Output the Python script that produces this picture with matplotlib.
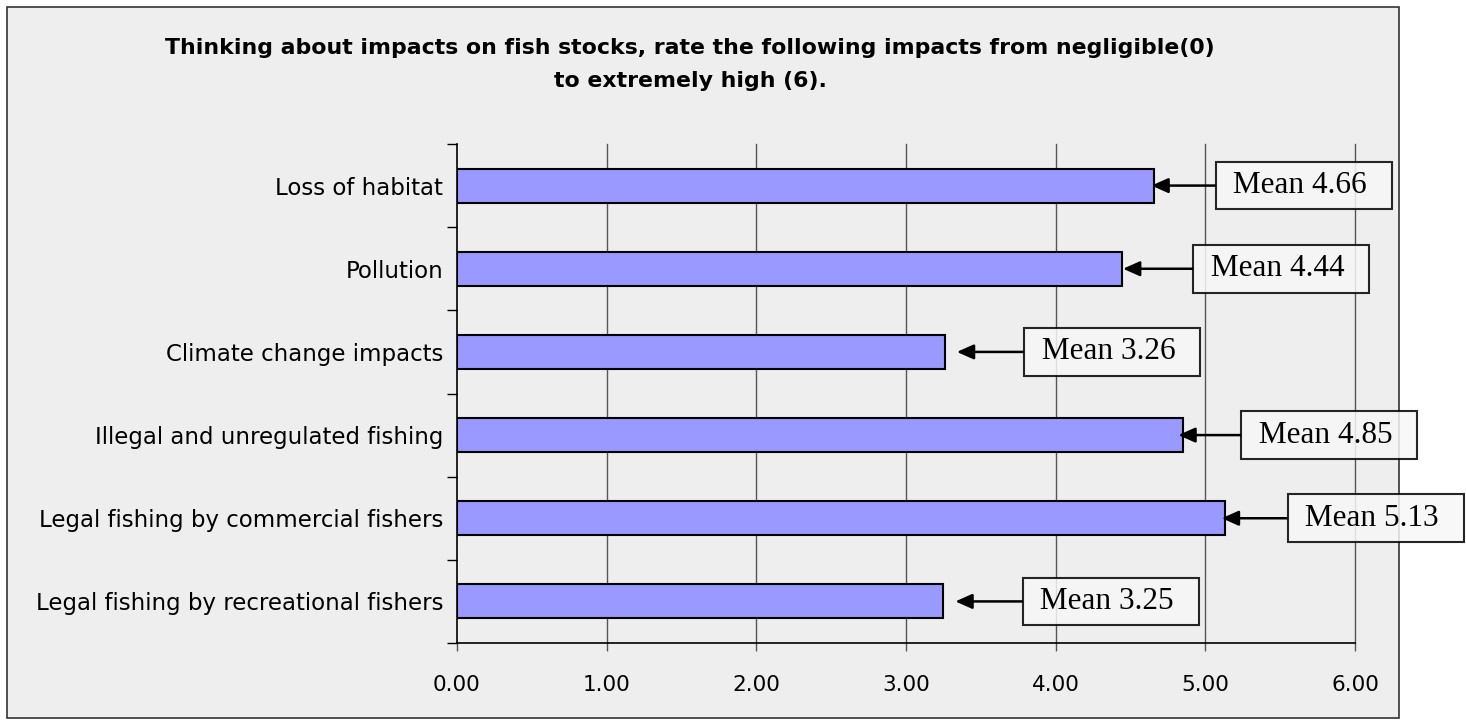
import matplotlib.pyplot as plt
from matplotlib.patches import Rectangle

# categories, top to bottom
categories = ["Loss of habitat", "Pollution", "Climate change impacts",
              "Illegal and unregulated fishing",
              "Legal fishing by commercial fishers",
              "Legal fishing by recreational fishers"]
means = [4.66, 4.44, 3.26, 4.85, 5.13, 3.25]
mean_labels = ["Mean 4.66", "Mean 4.44", "Mean 3.26", "Mean 4.85", "Mean 5.13", "Mean 3.25"]
xticks = [0, 1, 2, 3, 4, 5, 6]

# where the callout boxes sit (left edge, data units) and arrow tip gap
box_left = [5.07, 4.92, 3.79, 5.24, 5.55, 3.78]
tip_gap = [-0.02, 0.01, 0.08, -0.03, -0.02, 0.08]
box_pad = 0.3  # in fractions of the font size

fig = plt.figure(figsize=(14.66, 7.26), dpi=100)
fig.patch.set_facecolor("white")

# grey panel behind the chart
panel = Rectangle((7 / 1466, 8 / 726), 1392 / 1466, 711 / 726, transform=fig.transFigure,
                  facecolor="#EEEEEE", edgecolor="#333333", linewidth=1.2, zorder=-5)
fig.patches.append(panel)

ax = fig.add_axes([457 / 1466, 1 - 643 / 726, 898 / 1466, 499 / 726])
ax.patch.set_visible(False)

ypos = list(range(len(categories)))
ax.barh(ypos, means, height=0.41, color="#9999FF", edgecolor="black", linewidth=1.5, zorder=3)

ax.set_xlim(0, 6)
ax.set_ylim(len(categories) - 0.5, -0.5)

ax.set_xticks(xticks)
ax.set_xticklabels(["%.2f" % v for v in xticks], fontsize=15.5, family="DejaVu Sans")
ax.tick_params(axis="x", length=6, width=1, color="#555555", pad=17)

ax.set_yticks(ypos)
ax.set_yticklabels(categories, fontsize=16.5)
ax.set_yticks([y - 0.5 for y in range(len(categories) + 1)], minor=True)
ax.tick_params(axis="y", which="major", length=0, pad=10)
ax.tick_params(axis="y", which="minor", length=7, width=1, color="black")

for x in xticks[1:]:
    ax.axvline(x, color="#555555", linewidth=1, zorder=1, clip_on=False)

for s in ["top", "right"]:
    ax.spines[s].set_visible(False)
ax.spines["left"].set_linewidth(1.2)
ax.spines["bottom"].set_linewidth(1.2)

# shift text so the box edge (not the text) lands on box_left
pad_data = box_pad * 22.5 / 72 * 100 / (898 / 6)
for i in range(len(categories)):
    ax.annotate(" " + mean_labels[i] + "  ", xy=(means[i] + tip_gap[i], i),
                xytext=(box_left[i] + pad_data, i),
                ha="left", va="center", fontsize=22.5, family="Liberation Serif",
                bbox=dict(boxstyle="square,pad=%.2f" % box_pad, facecolor="#F7F7F7",
                          edgecolor="black", linewidth=1.5, alpha=0.85),
                arrowprops=dict(arrowstyle="-|>,head_length=0.45,head_width=0.2", color="black",
                                linewidth=1.8, shrinkA=0, shrinkB=0),
                zorder=5, annotation_clip=False)

fig.text(690 / 1466, 1 - 48 / 726,
         "Thinking about impacts on fish stocks, rate the following impacts from negligible(0)",
         ha="center", va="center", fontsize=15.8, fontweight="bold")
fig.text(690 / 1466, 1 - 81 / 726, "to extremely high (6).",
         ha="center", va="center", fontsize=15.8, fontweight="bold")

fig.savefig("out.png", dpi=100)
